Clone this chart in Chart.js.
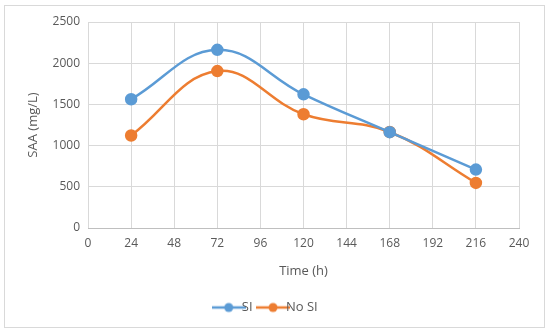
<!DOCTYPE html>
<html>
<head>
<meta charset="utf-8">
<script src="https://cdn.jsdelivr.net/npm/chart.js@4"></script>
<style>
  html, body { margin: 0; padding: 0; background: #fff; }
  #wrap { width: 550px; height: 334px; }
</style>
</head>
<body>
<div id="wrap"><canvas id="grafico" width="550" height="334"></canvas></div>
<script>
var hours = [24, 72, 120, 168, 216];
var siValues = [1562, 2162, 1622, 1163, 709];
var noSiValues = [1123, 1904, 1380, 1165, 547];
var seriesNames = ['SI', 'No SI'];

var blu = '#5B9BD5';
var arancio = '#ED7D31';

function toPoints(vals) {
  var out = [];
  for (var i = 0; i < hours.length; i++) {
    out.push({ x: hours[i], y: vals[i] });
  }
  return out;
}

// marcatore legenda: linea con cerchio al centro
function legendMarker(colore) {
  var c = document.createElement('canvas');
  c.width = 34; c.height = 12;
  var g = c.getContext('2d');
  g.strokeStyle = colore;
  g.lineWidth = 2.5;
  g.beginPath(); g.moveTo(0, 6); g.lineTo(34, 6); g.stroke();
  g.fillStyle = colore;
  g.beginPath(); g.arc(17, 6, 4.5, 0, Math.PI * 2); g.fill();
  return c;
}

var bordo = {
  id: 'bordo',
  beforeDraw: function (chart) {
    var ctx = chart.ctx;
    ctx.save();
    ctx.fillStyle = '#fff';
    ctx.fillRect(0, 0, chart.width, chart.height);
    ctx.strokeStyle = '#d9d9d9';
    ctx.lineWidth = 1;
    ctx.strokeRect(4.5, 5.5, 540, 322);
    ctx.restore();
  }
};

var testo = '#595959';
var font = "'Open Sans', 'Liberation Sans', sans-serif";

var ctx = document.getElementById('grafico').getContext('2d');
var grafico = new Chart(ctx, {
  type: 'line',
  data: {
    datasets: [{
      label: seriesNames[0],
      data: toPoints(siValues),
      borderColor: blu,
      backgroundColor: blu,
      borderWidth: 2.5,
      pointRadius: 5,
      pointStyle: 'circle',
      pointBackgroundColor: blu,
      pointBorderColor: blu,
      tension: 0.4
    }, {
      label: seriesNames[1],
      data: toPoints(noSiValues),
      borderColor: arancio,
      backgroundColor: arancio,
      borderWidth: 2.5,
      pointRadius: 5,
      pointStyle: 'circle',
      pointBackgroundColor: arancio,
      pointBorderColor: arancio,
      tension: 0.4
    }]
  },
  options: {
    responsive: false,
    animation: false,
    layout: { padding: { left: 21, right: 31, top: 22, bottom: 10 } },
    plugins: {
      legend: {
        position: 'bottom',
        labels: {
          usePointStyle: true,
          color: testo,
          font: { family: font, size: 13 },
          padding: 14,
          generateLabels: function (chart) {
            return chart.data.datasets.map(function (ds, i) {
              return {
                text: ds.label,
                fillStyle: ds.borderColor,
                strokeStyle: ds.borderColor,
                fontColor: testo,
                pointStyle: legendMarker(ds.borderColor),
                lineWidth: 0,
                datasetIndex: i
              };
            });
          }
        }
      },
      tooltip: { enabled: false }
    },
    scales: {
      x: {
        type: 'linear',
        min: 0,
        max: 240,
        ticks: { stepSize: 24, color: testo, font: { family: font, size: 12 }, padding: 8 },
        grid: { color: '#d9d9d9', drawTicks: false },
        border: { color: '#bfbfbf' },
        title: { display: true, text: 'Time (h)', color: testo, font: { family: font, size: 13 }, padding: { top: 5, bottom: 8 } }
      },
      y: {
        min: 0,
        max: 2500,
        ticks: {
          stepSize: 500, color: testo, font: { family: font, size: 12 }, padding: 8,
          callback: function (v) { return String(v); }
        },
        grid: { color: '#d9d9d9', drawTicks: false },
        border: { display: false },
        title: { display: true, text: 'SAA (mg/L)', color: testo, font: { family: font, size: 13 }, padding: { bottom: 4 } }
      }
    }
  },
  plugins: [bordo]
});
</script>
</body>
</html>
